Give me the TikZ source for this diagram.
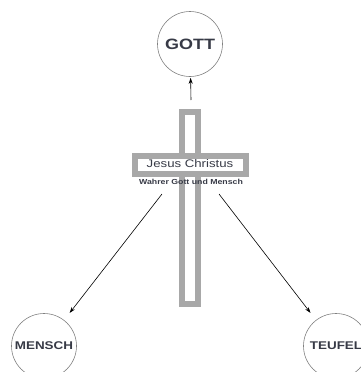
\documentclass[tikz,border=0pt]{standalone}
\usepackage{fontspec}
\setmainfont{Liberation Sans}
\newfontfamily\widefont[FakeStretch=1.2]{Liberation Sans}
\usepackage{tikz}
\usetikzlibrary{arrows.meta}
\definecolor{crossgray}{RGB}{168,168,168}
\definecolor{textgray}{RGB}{55,58,70}

\begin{document}
\begin{tikzpicture}
	[x=1pt,y=-1pt,
	word/.style={circle,draw=gray,line width=0.6pt,minimum size=65pt,inner sep=0pt,text=textgray,font=\widefont\bfseries\fontsize{11.2}{12}\selectfont},
	bar/.style={draw=crossgray,line width=5.5pt,fill=white},
	arr/.style={-{Stealth[length=6pt,width=4pt]},line width=0.6pt}]
	\useasboundingbox (0,0) rectangle (361,372);
	
	% cross
	\draw[bar] (182,112) rectangle (198,304);
	\draw[bar] (135,156) rectangle (246,174);
	\node[text=textgray,inner sep=0pt,font=\widefont\fontsize{11}{12}\selectfont] (jesus) at (190,164) {Jesus Christus};
	\node[text=textgray,inner sep=0pt,font=\widefont\bfseries\fontsize{7.3}{8}\selectfont] (wahrer) at (191,182) {Wahrer Gott und Mensch};
	
	\node[word,font=\widefont\bfseries\fontsize{15}{16}\selectfont] (gott) at (190,44) {GOTT};
	\node[word] (mensch) at (44,346) {MENSCH};
	\node[word] (teufel) at (336,346) {TEUFEL};
	
	\coordinate (top) at (191,100);
	\coordinate (lft) at (162,194);
	\coordinate (rgt) at (219,194);
	
	\draw[arr,shorten >=1pt] (top) -- (gott);
	\foreach \from/\to in {lft/mensch, rgt/teufel}
	\draw[arr,shorten >=9pt] (\from) -- (\to);
\end{tikzpicture}
\end{document}
